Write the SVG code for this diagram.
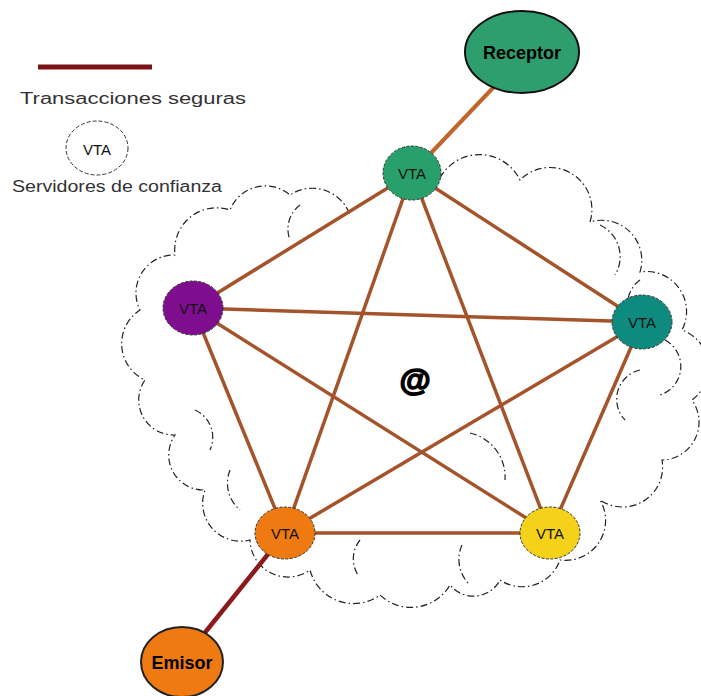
<svg xmlns="http://www.w3.org/2000/svg" width="701" height="696" viewBox="0 0 701 696">
<style>
.cloud{fill:none;stroke:#222;stroke-width:1.2;stroke-dasharray:7 3 1.5 3}
.edge{stroke:#A4532A;stroke-width:3.5;stroke-linecap:round}
.node{stroke:#333;stroke-width:1;stroke-dasharray:3 1.5}
.lbl{font-family:"Liberation Sans",Arial,sans-serif;font-size:15px;fill:#111;text-anchor:middle}
.big{font-family:"Liberation Sans",Arial,sans-serif;font-weight:bold;fill:#000;text-anchor:middle}
.leg{font-family:"Liberation Sans",Arial,sans-serif;fill:#333;font-size:16px}
</style>
<rect width="701" height="696" fill="#fff"/>
<g id="clouds">
<path class="cloud" d="M440,178 A45,45 0 0 1 520,180 A42,42 0 0 1 590,222 A40,40 0 0 1 640,272 A40,40 0 0 1 682,330 A40,40 0 0 1 692,400 A38,38 0 0 1 662,460 A40,40 0 0 1 600,500 A40,40 0 0 1 560,560 A40,40 0 0 1 500,580 A30,30 0 0 1 450,585 A45,45 0 0 1 380,595 A45,45 0 0 1 310,570 A38,38 0 0 1 250,540 A38,38 0 0 1 205,490 A35,35 0 0 1 175,435 A35,35 0 0 1 145,380 A40,40 0 0 1 140,310 A38,38 0 0 1 175,255 A42,42 0 0 1 230,210 A38,38 0 0 1 290,195 A40,40 0 0 1 350,215"/>
<path class="cloud" d="M300,205 A30,30 0 0 0 290,240"/>
<path class="cloud" d="M600,225 A35,35 0 0 1 615,275"/>
<path class="cloud" d="M640,280 A30,30 0 0 0 628,310"/>
<path class="cloud" d="M665,340 A30,30 0 0 1 660,395"/>
<path class="cloud" d="M470,433 A45,45 0 0 1 505,480"/>
<path class="cloud" d="M195,410 A30,30 0 0 1 210,450"/>
<path class="cloud" d="M462,545 A35,35 0 0 0 470,585"/>
<path class="cloud" d="M360,540 A30,30 0 0 0 358,575"/>
<path class="cloud" d="M230,470 A35,35 0 0 0 240,510"/>
<path class="cloud" d="M640,370 A30,30 0 0 0 625,420"/>
</g>
<g id="connectors">
<line class="edge" x1="412" y1="173" x2="193" y2="308"/>
<line class="edge" x1="412" y1="173" x2="642" y2="322"/>
<line class="edge" x1="412" y1="173" x2="285" y2="533"/>
<line class="edge" x1="412" y1="173" x2="550" y2="533"/>
<line class="edge" x1="193" y1="308" x2="642" y2="322"/>
<line class="edge" x1="193" y1="308" x2="285" y2="533"/>
<line class="edge" x1="193" y1="308" x2="550" y2="533"/>
<line class="edge" x1="642" y1="322" x2="285" y2="533"/>
<line class="edge" x1="642" y1="322" x2="550" y2="533"/>
<line class="edge" x1="285" y1="533" x2="550" y2="533"/>
<line x1="412" y1="173" x2="510" y2="70" stroke="#C0642A" stroke-width="4"/>
<line x1="285" y1="533" x2="195" y2="645" stroke="#8B1A1A" stroke-width="4.5"/>
</g>
<g id="legend">
<line x1="38" y1="67" x2="152" y2="67" stroke="#7A1418" stroke-width="5"/>
<text class="leg" x="20" y="104" textLength="226" lengthAdjust="spacingAndGlyphs">Transacciones seguras</text>
<ellipse cx="97" cy="148" rx="31" ry="27" fill="none" stroke="#333" stroke-width="1" stroke-dasharray="4 2"/>
<text class="lbl" x="97" y="155" font-size="17">VTA</text>
<text class="leg" x="12" y="192" textLength="210" lengthAdjust="spacingAndGlyphs">Servidores de confianza</text>
</g>
<g id="n_top"><ellipse class="node" cx="412" cy="173" rx="29" ry="27" fill="#27A06C"/><text class="lbl" x="412" y="179">VTA</text></g>
<g id="n_left"><ellipse class="node" cx="193" cy="308" rx="30" ry="27" fill="#7E0E8E"/><text class="lbl" x="193" y="314">VTA</text></g>
<g id="n_right"><ellipse class="node" cx="642" cy="322" rx="30" ry="27" fill="#0E8A7E"/><text class="lbl" x="642" y="328">VTA</text></g>
<g id="n_bl"><ellipse class="node" cx="285" cy="533" rx="30" ry="26" fill="#F07A12"/><text class="lbl" x="285" y="539">VTA</text></g>
<g id="n_br"><ellipse class="node" cx="550" cy="533" rx="30" ry="26" fill="#F5D21A"/><text class="lbl" x="550" y="539">VTA</text></g>
<g id="receptor"><ellipse cx="522" cy="52" rx="57" ry="41" fill="#2E9E6E" stroke="#111" stroke-width="2"/><text class="big" x="522" y="59" font-size="18">Receptor</text></g>
<g id="emisor"><ellipse cx="182" cy="662" rx="41" ry="35" fill="#F07A12" stroke="#222" stroke-width="2"/><text class="big" x="182" y="669" font-size="18">Emisor</text></g>
<g id="center"><text class="big" x="415" y="391" font-size="32" stroke="#000" stroke-width="1.5">@</text></g>
</svg>
